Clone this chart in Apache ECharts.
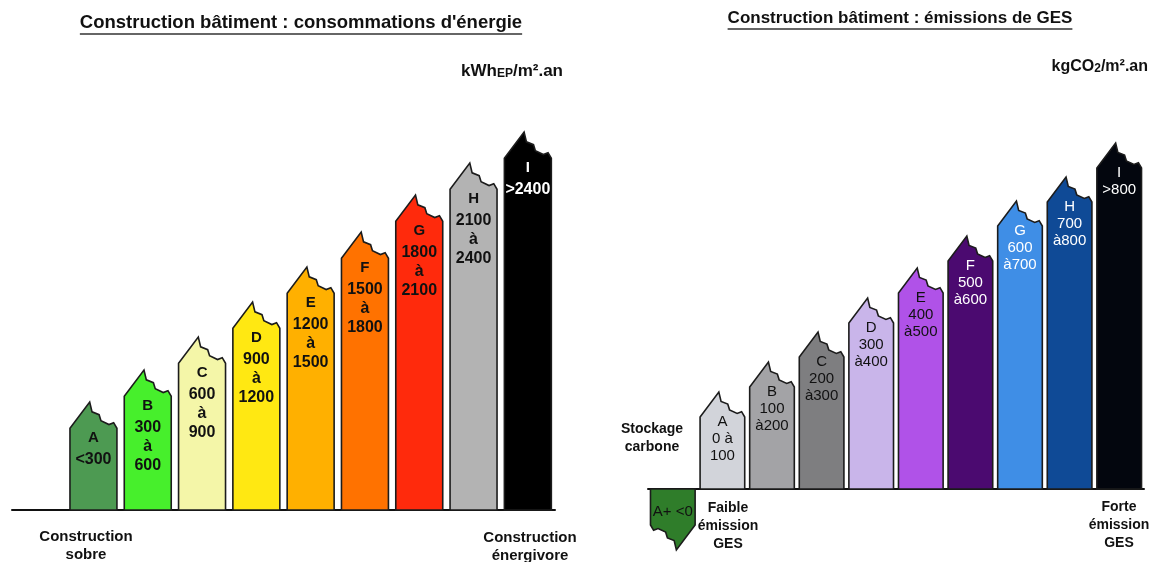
<!DOCTYPE html>
<html>
<head>
<meta charset="utf-8">
<script src="https://cdn.jsdelivr.net/npm/echarts@6/dist/echarts.min.js"></script>
<style>
  html, body { margin: 0; padding: 0; background: #fff; }
  #chart { width: 1151px; height: 562px; }
</style>
</head>
<body>
<div id="chart"></div>
<script>
// Energy classes (kWhEP/m².an)
const energyClasses = ['A', 'B', 'C', 'D', 'E', 'F', 'G', 'H', 'I'];
const energyRanges = ['<300', '300\nà\n600', '600\nà\n900', '900\nà\n1200', '1200\nà\n1500',
  '1500\nà\n1800', '1800\nà\n2100', '2100\nà\n2400', '>2400'];
const energyHeights = [108, 140, 173, 208, 243, 278, 315, 347, 378];

// GES classes (kgCO2/m².an)
const gesClasses = ['A+', 'A', 'B', 'C', 'D', 'E', 'F', 'G', 'H', 'I'];
const gesRanges = ['<0', '0 à\n100', '100\nà200', '200\nà300', '300\nà400', '400\nà500',
  '500\nà600', '600\nà700', '700\nà800', '>800'];
const gesHeights = [-61, 97, 127, 157, 191, 221, 253, 288, 312, 346];

// Colours
const energyColors = ['#4d9a52', '#47ef2c', '#f4f6a8', '#ffe812', '#ffb000', '#ff7200', '#ff2a0c', '#b3b3b3', '#000000'];
const energyText = ['#111', '#111', '#111', '#111', '#111', '#111', '#111', '#111', '#fff'];
const gesColors = ['#2f7d2a', '#d2d4da', '#a3a3a6', '#7e7e80', '#c9b5ea', '#b052e8', '#4b0a70', '#3f8ee6', '#0f4a96', '#03060e'];
const gesText = ['#111', '#111', '#111', '#111', '#111', '#111', '#fff', '#fff', '#fff', '#fff'];

const FONT = '"Liberation Sans", Arial, sans-serif';

// Torn top outline: [fraction of width across, drop below the peak in widths]
const TORN = [[0, 0.56], [0.42, 0], [0.47, 0.21], [0.62, 0.27], [0.66, 0.40],
  [0.83, 0.48], [0.93, 0.44], [1, 0.56]];

function tornBar(cfg) {
  return function (params, api) {
    const k = params.dataIndex;
    const h = api.value(1);
    const base = api.coord([api.value(0), 0]);
    const tip = api.coord([api.value(0), h]);
    const w = api.size([1, 0])[0] * cfg.ratio;
    const x0 = base[0] - w / 2, x1 = base[0] + w / 2;
    let pts;
    const children = [];
    if (h >= 0) {
      pts = [[x0, base[1]]].concat(TORN.map(p => [x0 + p[0] * w, tip[1] + p[1] * w]), [[x1, base[1]]]);
    } else {
      pts = [[x1, base[1]]].concat(TORN.map(p => [x1 - p[0] * w, tip[1] - p[1] * w]), [[x0, base[1]]]);
    }
    children.push({
      type: 'polygon',
      shape: { points: pts },
      style: { fill: cfg.colors[k], stroke: '#1c1c1c', lineWidth: 1.6, lineJoin: 'miter' }
    });
    const fill = cfg.textColors[k];
    if (h >= 0) {
      const shoulder = tip[1] + 0.56 * w;
      children.push({
        type: 'text',
        style: {
          text: cfg.classes[k], x: base[0], y: shoulder + cfg.letterOff,
          align: 'center', verticalAlign: 'middle', fill: fill,
          font: cfg.letterFont
        }
      });
      children.push({
        type: 'text',
        style: {
          text: cfg.ranges[k], x: base[0], y: shoulder + cfg.rangeOff - cfg.lineH / 2,
          align: 'center', verticalAlign: 'top', lineHeight: cfg.lineH, fill: fill,
          font: cfg.rangeFont
        }
      });
    } else {
      children.push({
        type: 'text',
        style: {
          text: cfg.classes[k] + ' ' + cfg.ranges[k], x: base[0], y: base[1] + 23,
          align: 'center', verticalAlign: 'middle', fill: fill,
          font: cfg.rangeFont
        }
      });
    }
    return { type: 'group', children: children };
  };
}

// text width helper for title underlines
const measureCtx = document.createElement('canvas').getContext('2d');
function textWidth(str, font) { measureCtx.font = font; return measureCtx.measureText(str).width; }

const titleLeft = 'Construction bâtiment : consommations d\'énergie';
const titleRight = 'Construction bâtiment : émissions de GES';
const titleLeftFont = 'bold 18.5px ' + FONT;
const titleRightFont = 'bold 17px ' + FONT;
const tlw = textWidth(titleLeft, titleLeftFont);
const trw = textWidth(titleRight, titleRightFont);
const tlx = 301, trx = 900;

function label(text, x, y, font, extra) {
  return Object.assign({
    type: 'text',
    style: { text: text, x: x, y: y, align: 'center', verticalAlign: 'middle', font: font, fill: '#111', lineHeight: 18 }
  }, extra || {});
}

const chart = echarts.init(document.getElementById('chart'), null, { renderer: 'canvas' });
chart.setOption({
  animation: false,
  backgroundColor: '#fff',
  grid: [
    { left: 12, width: 543, top: 110, height: 400 },
    { left: 648, width: 496, top: 89, height: 400 }
  ],
  xAxis: [
    {
      gridIndex: 0, type: 'category', data: [''].concat(energyClasses),
      axisLine: { lineStyle: { color: '#111', width: 2 } },
      axisTick: { show: false }, axisLabel: { show: false }, splitLine: { show: false }
    },
    {
      gridIndex: 1, type: 'category', data: gesClasses,
      axisLine: { lineStyle: { color: '#111', width: 2 } },
      axisTick: { show: false }, axisLabel: { show: false }, splitLine: { show: false }
    }
  ],
  yAxis: [
    { gridIndex: 0, type: 'value', min: 0, max: 400, show: false },
    { gridIndex: 1, type: 'value', min: 0, max: 400, show: false }
  ],
  series: [
    {
      type: 'custom', xAxisIndex: 0, yAxisIndex: 0, z: 5,
      renderItem: tornBar({
        ratio: 0.865, colors: energyColors, textColors: energyText,
        classes: energyClasses, ranges: energyRanges,
        letterOff: 10, rangeOff: 31, lineH: 19,
        letterFont: 'bold 15px ' + FONT, rangeFont: 'bold 16px ' + FONT
      }),
      data: energyHeights.map((v, i) => [i + 1, v])
    },
    {
      type: 'custom', xAxisIndex: 1, yAxisIndex: 1, z: 5,
      renderItem: tornBar({
        ratio: 0.9, colors: gesColors, textColors: gesText,
        classes: gesClasses, ranges: gesRanges,
        letterOff: 5, rangeOff: 22, lineH: 17,
        letterFont: '15px ' + FONT, rangeFont: '15px ' + FONT
      }),
      data: gesHeights.map((v, i) => [i, v])
    }
  ],
  graphic: [
    label(titleLeft, tlx, 23, titleLeftFont),
    { type: 'line', shape: { x1: tlx - tlw / 2, y1: 34, x2: tlx + tlw / 2, y2: 34 }, style: { stroke: '#333', lineWidth: 1.5 } },
    label(titleRight, trx, 18, titleRightFont),
    { type: 'line', shape: { x1: trx - trw / 2, y1: 29, x2: trx + trw / 2, y2: 29 }, style: { stroke: '#333', lineWidth: 1.5 } },
    {
      type: 'text',
      style: {
        x: 563, y: 71, align: 'right', verticalAlign: 'middle',
        text: '{a|kWh}{b|EP}{a|/m².an}',
        rich: {
          a: { font: 'bold 17px ' + FONT, fill: '#111' },
          b: { font: 'bold 12px ' + FONT, fill: '#111', verticalAlign: 'bottom', padding: [3, 0, 0, 0] }
        }
      }
    },
    {
      type: 'text',
      style: {
        x: 1148, y: 67, align: 'right', verticalAlign: 'middle',
        text: '{a|kgCO}{b|2}{a|/m².an}',
        rich: {
          a: { font: 'bold 16px ' + FONT, fill: '#111' },
          b: { font: 'bold 12px ' + FONT, fill: '#111', padding: [3, 0, 0, 0] }
        }
      }
    },
    label('Construction\nsobre', 86, 546, 'bold 15px ' + FONT, {}),
    label('Construction\nénergivore', 530, 547, 'bold 15px ' + FONT, {}),
    label('Stockage\ncarbone', 652, 438, 'bold 14px ' + FONT),
    label('Faible\némission\nGES', 728, 526, 'bold 14px ' + FONT),
    label('Forte\némission\nGES', 1119, 525, 'bold 14px ' + FONT)
  ]
});
</script>
</body>
</html>
